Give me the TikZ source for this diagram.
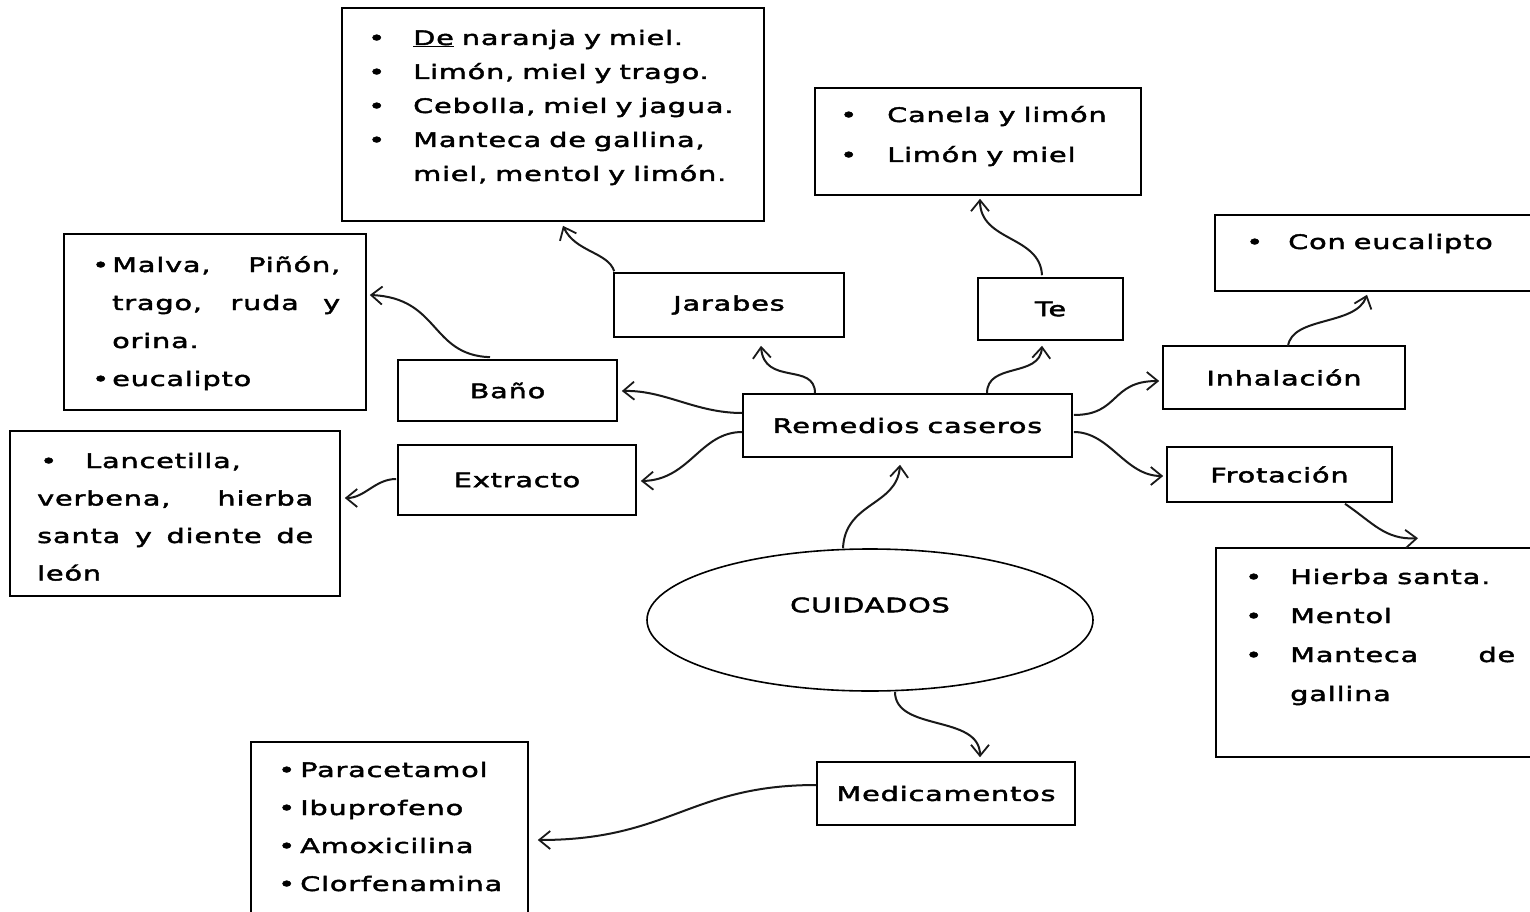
\documentclass[tikz,border=0pt]{standalone}
\usepackage{fontspec}
\setmainfont{DejaVu Sans}[FakeStretch=1.44,LetterSpace=4,WordSpace=0.8,FakeBold=2.2]
\usetikzlibrary{arrows.meta,shapes.geometric}
\newcommand\mybul[1]{\makebox[#1][l]{•}}
\tikzset{
  box/.style={draw=black, line width=1.6pt, rectangle, inner sep=0pt, font=\fontsize{20}{24}\selectfont},
  oval/.style={draw=black, line width=1.6pt, ellipse, inner sep=0pt},
  lt/.style={inner sep=0pt, align=left, anchor=base west, font=\fontsize{20}{34}\selectfont},
  arr/.style={line width=2pt, draw=black!90, -{Straight Barb[length=11pt,width=18pt,line width=1.8pt]}},
}
\begin{document}
\begin{tikzpicture}[x=1pt,y=-1pt]
\useasboundingbox (0,0) rectangle (1530,912);
\clip (0,0) rectangle (1530,912);

% list boxes
\node[box, minimum width=422, minimum height=213] (jarL) at (553,114.5) {};
\node[box, minimum width=326, minimum height=107] (teL) at (978,141.5) {};
\node[box, minimum width=330, minimum height=76] (conL) at (1380,253) {};
\node[box, minimum width=302, minimum height=176] (banoL) at (215,322) {};
\node[box, minimum width=330, minimum height=165] (extL) at (175,513.5) {};
\node[box, minimum width=329, minimum height=209] (frotL) at (1380.5,652.5) {};
\node[box, minimum width=277, minimum height=183] (medL) at (389.5,833.5) {};

% list texts (anchor = baseline of last line)
\node[lt] (jarT) at (368,181) {\mybul{45pt}\underline{De} naranja y miel.\\
\mybul{45pt}Limón, miel y trago.\\
\mybul{45pt}Cebolla, miel y jagua.\\
\mybul{45pt}Manteca de gallina,\\
\hspace*{45pt}miel, mentol y limón.};
\node[lt, font=\fontsize{20}{40}\selectfont] (teT) at (840,162) {\mybul{47pt}Canela y limón\\
\mybul{47pt}Limón y miel};
\node[lt] (conT) at (1246,249) {\mybul{42pt}Con eucalipto};
\node[lt, font=\fontsize{20}{38}\selectfont] (banoT) at (92,386) {\mybul{20pt}\makebox[228pt][s]{Malva, Piñón,}\\
\hspace*{20pt}\makebox[228pt][s]{trago, ruda y}\\
\hspace*{20pt}orina.\\
\mybul{20pt}eucalipto};
\node[lt, font=\fontsize{20}{37.5}\selectfont] (extT) at (37,580.5) {\hspace*{3pt}\mybul{45pt}Lancetilla,\\
\makebox[276pt][s]{verbena, hierba}\\
\makebox[276pt][s]{santa y diente de}\\
león};
\node[lt, font=\fontsize{20}{39}\selectfont] (frotT) at (1245,701) {\mybul{45pt}Hierba santa.\\
\mybul{45pt}Mentol\\
\mybul{45pt}\makebox[225pt][s]{Manteca de}\\
\hspace*{45pt}gallina};
\node[lt, font=\fontsize{20}{38}\selectfont] (medT) at (278,891) {\mybul{22pt}Paracetamol\\
\mybul{22pt}Ibuprofeno\\
\mybul{22pt}Amoxicilina\\
\mybul{22pt}Clorfenamina};

% main boxes
\node[box, minimum width=230, minimum height=64] (jar) at (729,305) {Jarabes};
\node[box, minimum width=145, minimum height=62] (te) at (1050.5,309) {Te};
\node[box, minimum width=219, minimum height=61] (bano) at (507.5,390.5) {Baño};
\node[box, minimum width=329, minimum height=63] (rem) at (907.5,425.5) {Remedios caseros};
\node[box, minimum width=238, minimum height=70] (ext) at (517,480) {Extracto};
\node[box, minimum width=242, minimum height=63] (inh) at (1284,377.5) {Inhalación};
\node[box, minimum width=225, minimum height=55] (frot) at (1279.5,474.5) {Frotación};
\node[box, minimum width=258, minimum height=63] (med) at (946,793.5) {Medicamentos};
\node[oval, minimum width=446, minimum height=142] (cuid) at (870,620) {};
\node[inner sep=0pt, font=\fontsize{20}{24}\selectfont] (cuidT) at (870,605) {CUIDADOS};

% connectors
\draw[arr] ([shift={(-92.5,0)}]rem.north) .. controls (815,362) and (764,386) .. ([shift={(32,8)}]jar.south);
\draw[arr] ([shift={(79.5,0)}]rem.north) .. controls (987,362) and (1040,378) .. ([shift={(-8.5,5)}]te.south);
\draw[arr] ([shift={(0,-12.5)}]rem.west) .. controls (695,413) and (665,390) .. ([shift={(4,0.5)}]bano.east);
\draw[arr] ([shift={(0,6.5)}]rem.west) .. controls (700,432) and (690,480) .. ([shift={(4,1)}]ext.east);
\draw[arr] ([shift={(1,-10.5)}]rem.east) .. controls (1120,415) and (1110,381) .. ([shift={(-3,3.5)}]inh.west);
\draw[arr] ([shift={(1,6.5)}]rem.east) .. controls (1110,432) and (1125,476) .. ([shift={(-3,1.5)}]frot.west);
\draw[arr] ([shift={(-27,0)}]cuid.north) .. controls (845,502) and (897,506) .. ([shift={(-7.5,7)}]rem.south);
\draw[arr] ([shift={(25,0)}]cuid.south) .. controls (895,732) and (980,714) .. ([shift={(34,-4)}]med.north);
\draw[arr] ([shift={(0,-8.5)}]med.west) .. controls (690,785) and (670,840) .. ([shift={(9,6.5)}]medL.east);
\draw[arr] ([shift={(1,-1)}]jar.north west) .. controls (608,252) and (575,252) .. ([shift={(10,4)}]jarL.south);
\draw[arr] ([shift={(-8.5,-2)}]te.north) .. controls (1040,235) and (980,242) .. ([shift={(2,3)}]teL.south);
\draw[arr] ([shift={(-17.5,-2)}]bano.north) .. controls (430,355) and (440,298) .. ([shift={(3,-27)}]banoL.east);
\draw[arr] ([shift={(-1,-1)}]ext.west) .. controls (375,479) and (365,498) .. ([shift={(4,-15.5)}]extL.east);
\draw[arr] ([shift={(4,1)}]inh.north) .. controls (1292,316) and (1356,326) .. ([shift={(-13,3)}]conL.south);
\draw[arr] ([shift={(65.5,1)}]frot.south) .. controls (1372,522) and (1385,540) .. ([shift={(37.5,-9)}]frotL.north);
\end{tikzpicture}
\end{document}
